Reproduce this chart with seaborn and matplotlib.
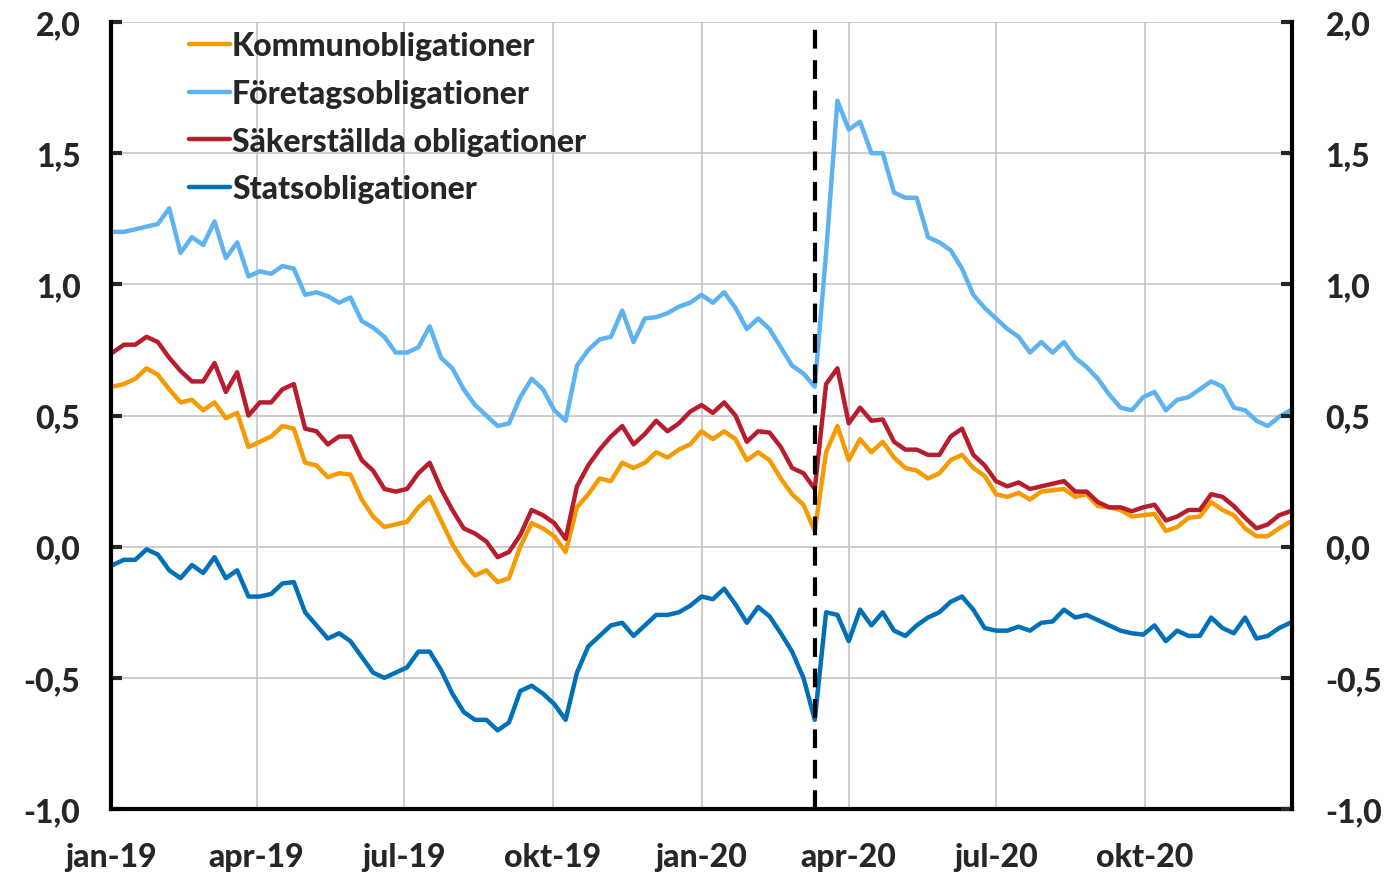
import pandas as pd
import numpy as np
import seaborn as sns
import matplotlib.pyplot as plt

# Weekly readings, jan 2019 - dec 2020 (percent)
kommun = [0.61, 0.62, 0.64, 0.68, 0.655, 0.60, 0.55, 0.56, 0.52, 0.55,
          0.49, 0.51, 0.38, 0.40, 0.42, 0.46, 0.45, 0.32, 0.31, 0.265,
          0.28, 0.275, 0.18, 0.115, 0.075, 0.085, 0.095, 0.15, 0.19, 0.10,
          0.01, -0.06, -0.11, -0.09, -0.135, -0.12, 0.0, 0.09, 0.07, 0.04,
          -0.02, 0.15, 0.20, 0.26, 0.25, 0.32, 0.30, 0.32, 0.36, 0.34,
          0.37, 0.39, 0.44, 0.41, 0.44, 0.41, 0.33, 0.36, 0.33, 0.26,
          0.20, 0.16, 0.06, 0.36, 0.46, 0.33, 0.41, 0.36, 0.40, 0.34,
          0.30, 0.29, 0.26, 0.28, 0.33, 0.35, 0.30, 0.27, 0.20, 0.19,
          0.205, 0.18, 0.21, 0.215, 0.22, 0.19, 0.20, 0.155, 0.15, 0.14,
          0.115, 0.12, 0.125, 0.06, 0.075, 0.11, 0.115, 0.17, 0.14, 0.12,
          0.07, 0.04, 0.04, 0.07, 0.095]
foretag = [1.20, 1.20, 1.21, 1.22, 1.23, 1.29, 1.12, 1.18, 1.15, 1.24,
           1.10, 1.16, 1.03, 1.05, 1.04, 1.07, 1.06, 0.96, 0.97, 0.955,
           0.93, 0.95, 0.86, 0.835, 0.80, 0.74, 0.74, 0.76, 0.84, 0.72,
           0.68, 0.60, 0.54, 0.50, 0.46, 0.47, 0.57, 0.64, 0.60, 0.52,
           0.48, 0.69, 0.75, 0.79, 0.80, 0.90, 0.78, 0.87, 0.875, 0.89,
           0.915, 0.93, 0.96, 0.93, 0.97, 0.91, 0.83, 0.87, 0.83, 0.76,
           0.69, 0.66, 0.61, 1.12, 1.70, 1.59, 1.62, 1.50, 1.50, 1.35,
           1.33, 1.33, 1.18, 1.16, 1.13, 1.06, 0.96, 0.91, 0.87, 0.83,
           0.80, 0.74, 0.78, 0.74, 0.78, 0.72, 0.685, 0.64, 0.58, 0.53,
           0.52, 0.57, 0.59, 0.52, 0.56, 0.57, 0.60, 0.63, 0.61, 0.53,
           0.52, 0.48, 0.46, 0.495, 0.52]
sakerstallda = [0.74, 0.77, 0.77, 0.80, 0.78, 0.72, 0.67, 0.63, 0.63, 0.70,
                0.59, 0.665, 0.50, 0.55, 0.55, 0.60, 0.62, 0.45, 0.44, 0.39,
                0.42, 0.42, 0.33, 0.29, 0.22, 0.21, 0.22, 0.28, 0.32, 0.22,
                0.14, 0.07, 0.05, 0.02, -0.04, -0.02, 0.045, 0.14, 0.12, 0.09,
                0.03, 0.23, 0.31, 0.37, 0.42, 0.46, 0.39, 0.43, 0.48, 0.44,
                0.47, 0.515, 0.54, 0.51, 0.55, 0.50, 0.40, 0.44, 0.435, 0.38,
                0.30, 0.28, 0.22, 0.62, 0.68, 0.47, 0.53, 0.48, 0.485, 0.40,
                0.37, 0.37, 0.35, 0.35, 0.42, 0.45, 0.35, 0.31, 0.25, 0.23,
                0.245, 0.22, 0.23, 0.24, 0.25, 0.21, 0.21, 0.17, 0.15, 0.15,
                0.135, 0.15, 0.16, 0.10, 0.115, 0.14, 0.14, 0.20, 0.19, 0.155,
                0.11, 0.07, 0.085, 0.12, 0.135]
stat = [-0.07, -0.05, -0.05, -0.01, -0.03, -0.09, -0.12, -0.07, -0.10, -0.04,
        -0.12, -0.09, -0.19, -0.19, -0.18, -0.14, -0.135, -0.25, -0.30, -0.35,
        -0.33, -0.36, -0.42, -0.48, -0.50, -0.48, -0.46, -0.40, -0.40, -0.47,
        -0.56, -0.63, -0.66, -0.66, -0.70, -0.67, -0.55, -0.53, -0.56, -0.60,
        -0.66, -0.48, -0.38, -0.34, -0.30, -0.29, -0.34, -0.30, -0.26, -0.26,
        -0.25, -0.225, -0.19, -0.20, -0.16, -0.22, -0.29, -0.23, -0.265, -0.33,
        -0.40, -0.50, -0.66, -0.25, -0.26, -0.36, -0.24, -0.30, -0.25, -0.32,
        -0.34, -0.30, -0.27, -0.25, -0.21, -0.19, -0.24, -0.31, -0.32, -0.32,
        -0.305, -0.32, -0.29, -0.285, -0.24, -0.27, -0.26, -0.28, -0.30, -0.32,
        -0.33, -0.335, -0.30, -0.36, -0.32, -0.34, -0.34, -0.27, -0.31, -0.33,
        -0.27, -0.35, -0.34, -0.31, -0.29]

series_names = ["Kommunobligationer", "Företagsobligationer",
                "Säkerställda obligationer", "Statsobligationer"]
colors = ["#F59B00", "#5DB3F1", "#B81D2D", "#0070B9"]
tick_dates = ["2019-01-01", "2019-04-01", "2019-07-01", "2019-10-01",
              "2020-01-01", "2020-04-01", "2020-07-01", "2020-10-01"]
tick_labels = ["jan-19", "apr-19", "jul-19", "okt-19",
               "jan-20", "apr-20", "jul-20", "okt-20"]
event_date = "2020-03-11"

dates = pd.date_range("2019-01-02", periods=len(stat), freq="7D")
wide = pd.DataFrame({"datum": dates,
                     series_names[0]: kommun,
                     series_names[1]: foretag,
                     series_names[2]: sakerstallda,
                     series_names[3]: stat})
df = wide.melt(id_vars="datum", var_name="serie", value_name="ränta")

sns.set_style("white")
plt.rcParams["font.family"] = ["Lato", "DejaVu Sans"]
plt.rcParams["font.weight"] = "black"

fs = 23

fig = plt.figure(figsize=(13.89, 8.78), dpi=100)
ax = fig.add_axes([0.0799, 0.0774, 0.8503, 0.8964])

sns.lineplot(data=df, x="datum", y="ränta", hue="serie", hue_order=series_names,
             palette=colors, linewidth=3.2, ax=ax)

ax.axvline(pd.Timestamp(event_date), color="black", linewidth=3,
           linestyle=(0, (4.5, 2.8)), zorder=5)

ax.set_xlim(pd.Timestamp("2019-01-01"), pd.Timestamp("2020-12-31"))
ax.set_ylim(-1.0, 2.0)
yticks = np.arange(-1.0, 2.01, 0.5)
ylabels = [f"{v:.1f}".replace(".", ",") for v in yticks]
ax.set_yticks(yticks)
ax.set_yticklabels(ylabels)
ax.set_xticks(pd.to_datetime(tick_dates))
ax.set_xticklabels(tick_labels)
ax.set_xlabel("")
ax.set_ylabel("")

ax.grid(True, color="#C0C0C0", linewidth=1.1)
ax.set_axisbelow(True)
for side in ["left", "right", "bottom"]:
    ax.spines[side].set_color("black")
    ax.spines[side].set_linewidth(3)
ax.spines["top"].set_visible(False)
ax.spines["right"].set_visible(False)
ax.tick_params(axis="y", direction="in", length=8, width=3, pad=22,
               labelsize=fs, left=True)
ax.tick_params(axis="x", length=0, pad=24, labelsize=fs)

ax2 = ax.twinx()
ax2.set_ylim(-1.0, 2.0)
ax2.set_yticks(yticks)
ax2.set_yticklabels(ylabels)
ax2.tick_params(axis="y", direction="in", length=8, width=3, pad=24,
                labelsize=fs, right=True)
ax2.spines["right"].set_linewidth(3)
ax2.spines["right"].set_color("black")
for side in ["left", "top", "bottom"]:
    ax2.spines[side].set_visible(False)
ax2.grid(False)

handles, labels = ax.get_legend_handles_labels()
leg = ax.legend(handles, labels, loc="upper left", bbox_to_anchor=(0.066, 0.988),
                frameon=False, fontsize=fs, handlelength=1.3, handletextpad=0.05,
                labelspacing=0.58, borderaxespad=0, borderpad=0)
for line in leg.get_lines():
    line.set_linewidth(3.2)

fig.savefig("out.png", dpi=100)
